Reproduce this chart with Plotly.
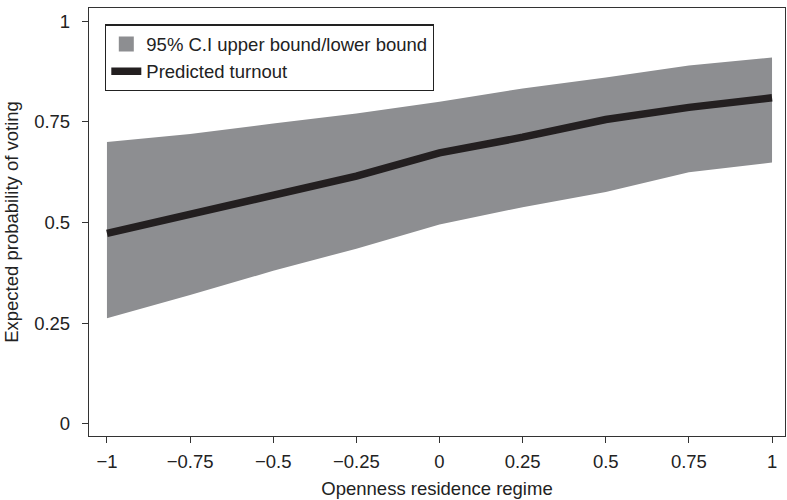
import plotly.graph_objects as go

# Openness of residence regime (x) and predicted turnout with its 95% interval
openness = [-1, -0.75, -0.5, -0.25, 0, 0.25, 0.5, 0.75, 1]
predicted = [0.473, 0.52, 0.57, 0.615, 0.673, 0.712, 0.756, 0.786, 0.81]
ci_upper = [0.70, 0.72, 0.746, 0.771, 0.80, 0.833, 0.86, 0.89, 0.91]
ci_lower = [0.262, 0.32, 0.38, 0.435, 0.495, 0.538, 0.576, 0.625, 0.649]

x_ticks = [-1, -0.75, -0.5, -0.25, 0, 0.25, 0.5, 0.75, 1]
y_ticks = [0, 0.25, 0.5, 0.75, 1]

band_color = "#8d8e91"
line_color = "#231f20"
font_family = "Liberation Sans, Arial, Helvetica, sans-serif"
font_size = 18.5

fig = go.Figure()

# Confidence band as a closed polygon: upper bound forward, lower bound back
fig.add_trace(go.Scatter(
    x=openness + openness[::-1],
    y=ci_upper + ci_lower[::-1],
    fill="toself",
    fillcolor=band_color,
    line=dict(width=0, color=band_color),
    mode="lines",
    hoverinfo="skip",
    showlegend=False,
))

# Legend key for the band
fig.add_trace(go.Scatter(
    x=[None], y=[None],
    mode="markers",
    marker=dict(symbol="square", size=15, color=band_color),
    name="95% C.I upper bound/lower bound",
))

fig.add_trace(go.Scatter(
    x=openness,
    y=predicted,
    mode="lines",
    line=dict(color=line_color, width=7.5),
    name="Predicted turnout",
))

axis_common = dict(
    showline=True,
    mirror=True,
    linecolor="#333333",
    linewidth=1.3,
    ticks="outside",
    ticklen=6,
    tickwidth=1.3,
    tickcolor="#333333",
    showgrid=False,
    zeroline=False,
    tickfont=dict(family=font_family, size=font_size, color="#222222"),
    title_font=dict(family=font_family, size=font_size, color="#222222"),
)

fig.update_layout(
    width=787,
    height=500,
    margin=dict(l=89, r=2, t=8, b=64),
    paper_bgcolor="white",
    plot_bgcolor="white",
    font=dict(family=font_family, size=font_size, color="#222222"),
    xaxis=dict(
        axis_common,
        range=[-1.054, 1.039],
        tickvals=x_ticks,
        ticktext=[("\u2212" + f"{abs(v):g}") if v < 0 else f"{v:g}" for v in x_ticks],
        ticklabelstandoff=3,
        title=dict(text="Openness residence regime", standoff=10),
    ),
    yaxis=dict(
        axis_common,
        range=[-0.0305, 1.033],
        tickvals=y_ticks,
        ticktext=[f"{v:g}" for v in y_ticks],
        ticklabelstandoff=8,
        title=dict(text="Expected probability of voting", standoff=10),
    ),
    legend=dict(
        x=0.023, y=0.962,
        xanchor="left", yanchor="top",
        bgcolor="white",
        bordercolor="#222222",
        borderwidth=1.3,
        font=dict(family=font_family, size=font_size, color="#222222"),
        tracegroupgap=0,
        itemwidth=30,
    ),
)

fig.write_html("out.html")
